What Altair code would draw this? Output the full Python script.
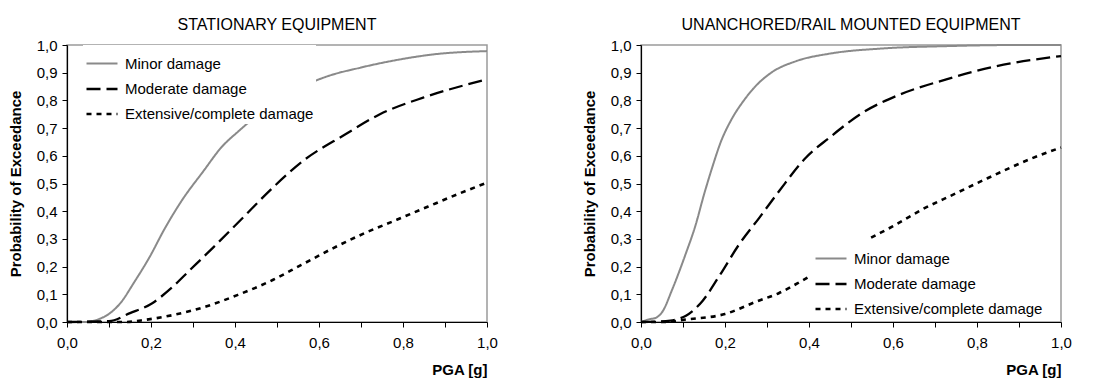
import altair as alt
import pandas as pd

SERIES = ["Minor damage", "Moderate damage", "Extensive/complete damage"]
COLORS = ["#8a8a8a", "#000000", "#000000"]
DASHES = [[1, 0], [14, 6], [5, 5]]
WIDTHS = [2, 2.6, 2.6]
TICKS = [0.0, 0.1, 0.2, 0.3, 0.4, 0.5, 0.6, 0.7, 0.8, 0.9, 1.0]

# --- STATIONARY EQUIPMENT ---
st_minor_x = [0, 0.04, 0.09, 0.127, 0.161, 0.195, 0.233, 0.274, 0.324, 0.369, 0.407, 0.44, 0.5, 0.56, 0.622, 0.698, 0.793, 0.872, 1.0]
st_minor_y = [0, 0, 0.02, 0.068, 0.146, 0.23, 0.338, 0.44, 0.543, 0.633, 0.687, 0.73, 0.80, 0.85, 0.888, 0.918, 0.948, 0.966, 0.978]
st_mod_x = [0, 0.1, 0.15, 0.203, 0.248, 0.293, 0.346, 0.414, 0.49, 0.565, 0.66, 0.745, 0.848, 1.0]
st_mod_y = [0, 0.003, 0.032, 0.068, 0.122, 0.188, 0.266, 0.369, 0.485, 0.585, 0.675, 0.75, 0.81, 0.876]
st_ext_x = [0, 0.14, 0.187, 0.255, 0.331, 0.407, 0.482, 0.558, 0.633, 0.709, 0.785, 0.86, 0.936, 1.0]
st_ext_y = [0, 0, 0.008, 0.026, 0.056, 0.098, 0.146, 0.206, 0.266, 0.321, 0.369, 0.417, 0.465, 0.503]

# --- UNANCHORED/RAIL MOUNTED EQUIPMENT ---
un_minor_x = [0, 0.02, 0.035, 0.05, 0.075, 0.105, 0.13, 0.15, 0.17, 0.19, 0.215, 0.245, 0.275, 0.31, 0.37, 0.45, 0.57, 0.73, 0.9, 1.0]
un_minor_y = [0, 0.01, 0.015, 0.035, 0.12, 0.24, 0.35, 0.46, 0.56, 0.65, 0.73, 0.80, 0.855, 0.9, 0.942, 0.969, 0.987, 0.996, 1.0, 1.0]
un_mod_x = [0, 0.07, 0.09, 0.107, 0.147, 0.186, 0.234, 0.282, 0.329, 0.393, 0.449, 0.528, 0.608, 0.727, 0.847, 1.0]
un_mod_y = [0, 0.005, 0.012, 0.023, 0.077, 0.165, 0.281, 0.377, 0.473, 0.594, 0.666, 0.756, 0.816, 0.876, 0.924, 0.96]
un_ext_x = [0, 0.06, 0.102, 0.2, 0.275, 0.328, 0.38, 0.45, 0.531, 0.599, 0.674, 0.742, 0.825, 0.931, 1.0]
un_ext_y = [0, 0, 0.008, 0.029, 0.074, 0.104, 0.146, 0.21, 0.29, 0.345, 0.41, 0.459, 0.519, 0.591, 0.63]

FONT = "Liberation Sans"


def build_df(triples):
    rows = []
    for name, xs, ys in triples:
        for i, (xv, yv) in enumerate(zip(xs, ys)):
            rows.append({"series": name, "pga": xv, "p": yv, "i": i})
    return pd.DataFrame(rows)


def comma_expr():
    return "replace(format(datum.value, '.1f'), '.', ',')"


def panel(title, df, lx, ly, row_pad, pad, sym):
    leg = alt.Legend(
        title=None, orient="none", legendX=lx, legendY=ly,
        fillColor="white", padding=pad, symbolType="stroke", symbolSize=sym,
        labelFont=FONT, labelFontSize=15, labelColor="#000000", labelOffset=6,
        rowPadding=row_pad, labelLimit=400,
    )
    return alt.Chart(df, title=alt.TitleParams(
        title, font=FONT, fontSize=16, fontWeight="normal", color="#000000",
        anchor="middle", offset=5,
    )).mark_line(interpolate="monotone").encode(
        x=alt.X("pga:Q", scale=alt.Scale(domain=[0, 1], nice=False),
                axis=alt.Axis(values=TICKS, title="PGA [g]", titleAnchor="end",
                              labelExpr="round(datum.value*10) % 2 == 0 ? " + comma_expr() + " : ''",
                              labelFlush=False, labelPadding=8, titlePadding=12)),
        y=alt.Y("p:Q", scale=alt.Scale(domain=[0, 1], nice=False),
                axis=alt.Axis(values=TICKS, title="Probability of Exceedance",
                              labelExpr=comma_expr(), labelPadding=5, titlePadding=13)),
        color=alt.Color("series:N", scale=alt.Scale(domain=SERIES, range=COLORS), legend=leg),
        strokeDash=alt.StrokeDash("series:N", scale=alt.Scale(domain=SERIES, range=DASHES), legend=leg),
        strokeWidth=alt.StrokeWidth("series:N", scale=alt.Scale(domain=SERIES, range=WIDTHS), legend=leg),
        order="i:Q",
    ).properties(width=420, height=277)


left = panel("STATIONARY EQUIPMENT", build_df([
    (SERIES[0], st_minor_x, st_minor_y),
    (SERIES[1], st_mod_x, st_mod_y),
    (SERIES[2], st_ext_x, st_ext_y),
]), 16, 0, 0, 2, 961)

right = panel("UNANCHORED/RAIL MOUNTED EQUIPMENT", build_df([
    (SERIES[0], un_minor_x, un_minor_y),
    (SERIES[1], un_mod_x, un_mod_y),
    (SERIES[2], un_ext_x, un_ext_y),
]), 170, 194, 0, 3, 961)

chart = alt.hconcat(left, right, spacing=82).resolve_scale(
    color="independent", strokeDash="independent", strokeWidth="independent"
).resolve_legend(
    color="independent", strokeDash="independent", strokeWidth="independent"
).properties(
    padding={"left": 7, "top": 16, "right": 5, "bottom": 5},
    background="white",
).configure_view(
    stroke="#9a9a9a", strokeWidth=1.5,
).configure_axis(
    grid=False, domainColor="#000000", tickColor="#000000", domainWidth=1.2,
    tickSize=5, labelFont=FONT, labelFontSize=15, labelColor="#000000",
    titleFont=FONT, titleFontSize=15, titleFontWeight="bold", titleColor="#000000",
)

chart.save("out.html", embed_options={"renderer": "svg", "actions": False})
